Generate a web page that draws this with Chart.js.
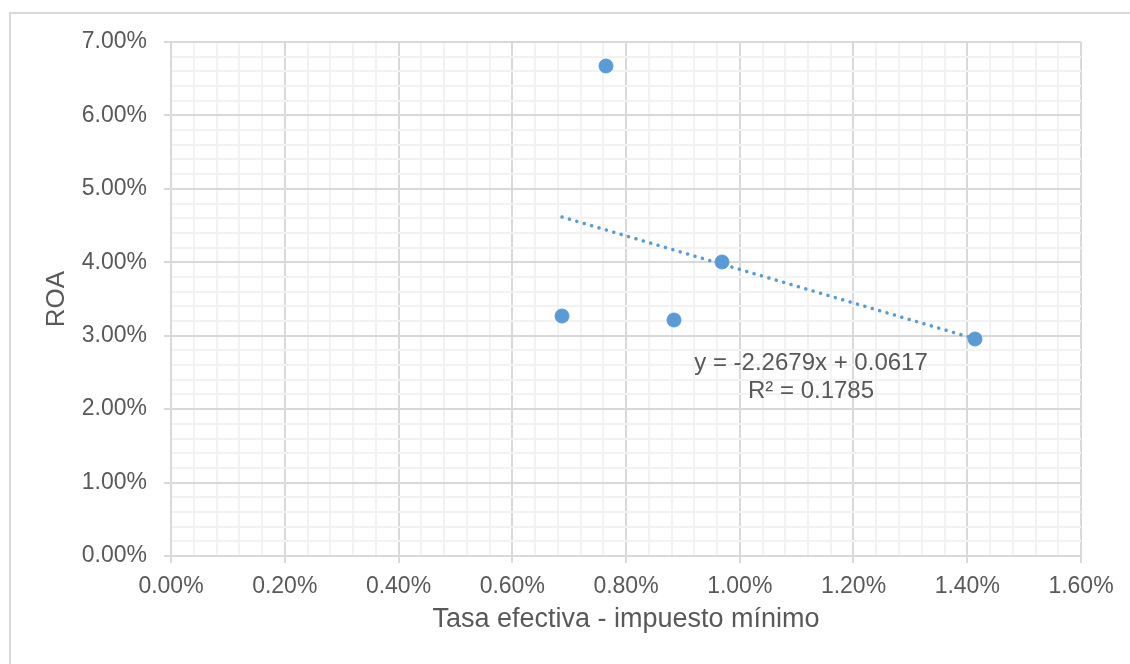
<!DOCTYPE html>
<html>
<head>
<meta charset="utf-8">
<script src="https://cdn.jsdelivr.net/npm/chart.js@4"></script>
<style>
    body { margin: 0; background: #fff; }
    #wrap { position: relative; width: 1130px; height: 664px; overflow: hidden; }
    #frame { position: absolute; left: 9px; top: 12px; width: 1200px; height: 700px;
             border-top: 2px solid #d9d9d9; border-left: 2px solid #d9d9d9; pointer-events: none; }
</style>
</head>
<body>
<div id="wrap">
    <canvas id="roaChart"></canvas>
    <div id="frame"></div>
</div>
<script>
// tasa efectiva (%) vs ROA (%)
const tasaEfectiva = [0.6875, 0.7648, 0.8844, 0.9688, 1.4136];
const roa = [3.268, 6.673, 3.214, 4.004, 2.955];

// trend line ends
const trendX = [0.6875, 1.4136];
const trendY = [4.617, 2.958];

const eqLines = ['y = -2.2679x + 0.0617', 'R² = 0.1785'];
const eqPos = { x: 1.1253, y: [2.628, 2.247] };

const textColor = '#595959';
const majorGrid = '#d9d9d9';
const minorGrid = '#f2f2f2';

function pct(v) {
    return v.toFixed(2) + '%';
}

const equationLabel = {
    id: 'equationLabel',
    afterDatasetsDraw(chart) {
        const { ctx, scales } = chart;
        ctx.save();
        ctx.font = '24px "Liberation Sans", Arial, sans-serif';
        ctx.fillStyle = textColor;
        ctx.textAlign = 'center';
        ctx.textBaseline = 'middle';
        eqLines.forEach((line, i) => {
            ctx.fillText(line, scales.x.getPixelForValue(eqPos.x), scales.y.getPixelForValue(eqPos.y[i]));
        });
        ctx.restore();
    }
};

Chart.defaults.font.family = '"Liberation Sans", Arial, sans-serif';
Chart.defaults.color = textColor;

new Chart(document.getElementById('roaChart'), {
    type: 'scatter',
    data: {
        datasets: [
            {
                label: 'ROA',
                data: tasaEfectiva.map((x, i) => ({ x: x, y: roa[i] })),
                backgroundColor: '#5b9bd5',
                borderColor: '#5b9bd5',
                pointRadius: 7,
                pointHoverRadius: 7,
                order: 1
            },
            {
                label: 'Tendencia',
                type: 'line',
                data: trendX.map((x, i) => ({ x: x, y: trendY[i] })),
                borderColor: '#5b9bd5',
                borderWidth: 3.5,
                borderDash: [0.1, 7.6],
                borderCapStyle: 'round',
                pointRadius: 0,
                fill: false,
                order: 2
            }
        ]
    },
    options: {
        responsive: true,
        maintainAspectRatio: false,
        animation: false,
        layout: { padding: { top: 42, right: 49, left: 0, bottom: 0 } },
        plugins: {
            legend: { display: false },
            tooltip: { enabled: false }
        },
        scales: {
            x: {
                type: 'linear',
                min: 0,
                max: 1.6,
                afterFit: (scale) => { scale.height = 108; },
                ticks: {
                    stepSize: 0.04,
                    autoSkip: false,
                    maxRotation: 0,
                    padding: 10,
                    font: { size: 23 },
                    color: textColor,
                    callback: (value, index) => index % 5 === 0 ? pct(value) : ''
                },
                grid: {
                    color: (c) => c.index % 5 === 0 ? majorGrid : minorGrid,
                    lineWidth: 2,
                    tickLength: 7,
                    tickColor: (c) => c.index % 5 === 0 ? majorGrid : 'rgba(0,0,0,0)'
                },
                border: { color: majorGrid, width: 2 },
                title: {
                    display: true,
                    text: 'Tasa efectiva - impuesto mínimo',
                    font: { size: 27 },
                    color: textColor,
                    padding: { top: 0, bottom: 28 }
                }
            },
            y: {
                type: 'linear',
                min: 0,
                max: 7,
                afterFit: (scale) => { scale.width = 171; },
                ticks: {
                    stepSize: 0.2,
                    autoSkip: false,
                    padding: 17,
                    font: { size: 23 },
                    color: textColor,
                    callback: (value, index) => index % 5 === 0 ? pct(value) : ''
                },
                grid: {
                    color: (c) => c.index % 5 === 0 ? majorGrid : minorGrid,
                    lineWidth: 2,
                    tickLength: 7,
                    tickColor: (c) => c.index % 5 === 0 ? majorGrid : 'rgba(0,0,0,0)'
                },
                border: { color: majorGrid, width: 2 },
                title: {
                    display: true,
                    text: 'ROA',
                    font: { size: 26 },
                    color: textColor,
                    padding: { top: 41, bottom: 0 }
                }
            }
        }
    },
    plugins: [equationLabel]
});
</script>
</body>
</html>
